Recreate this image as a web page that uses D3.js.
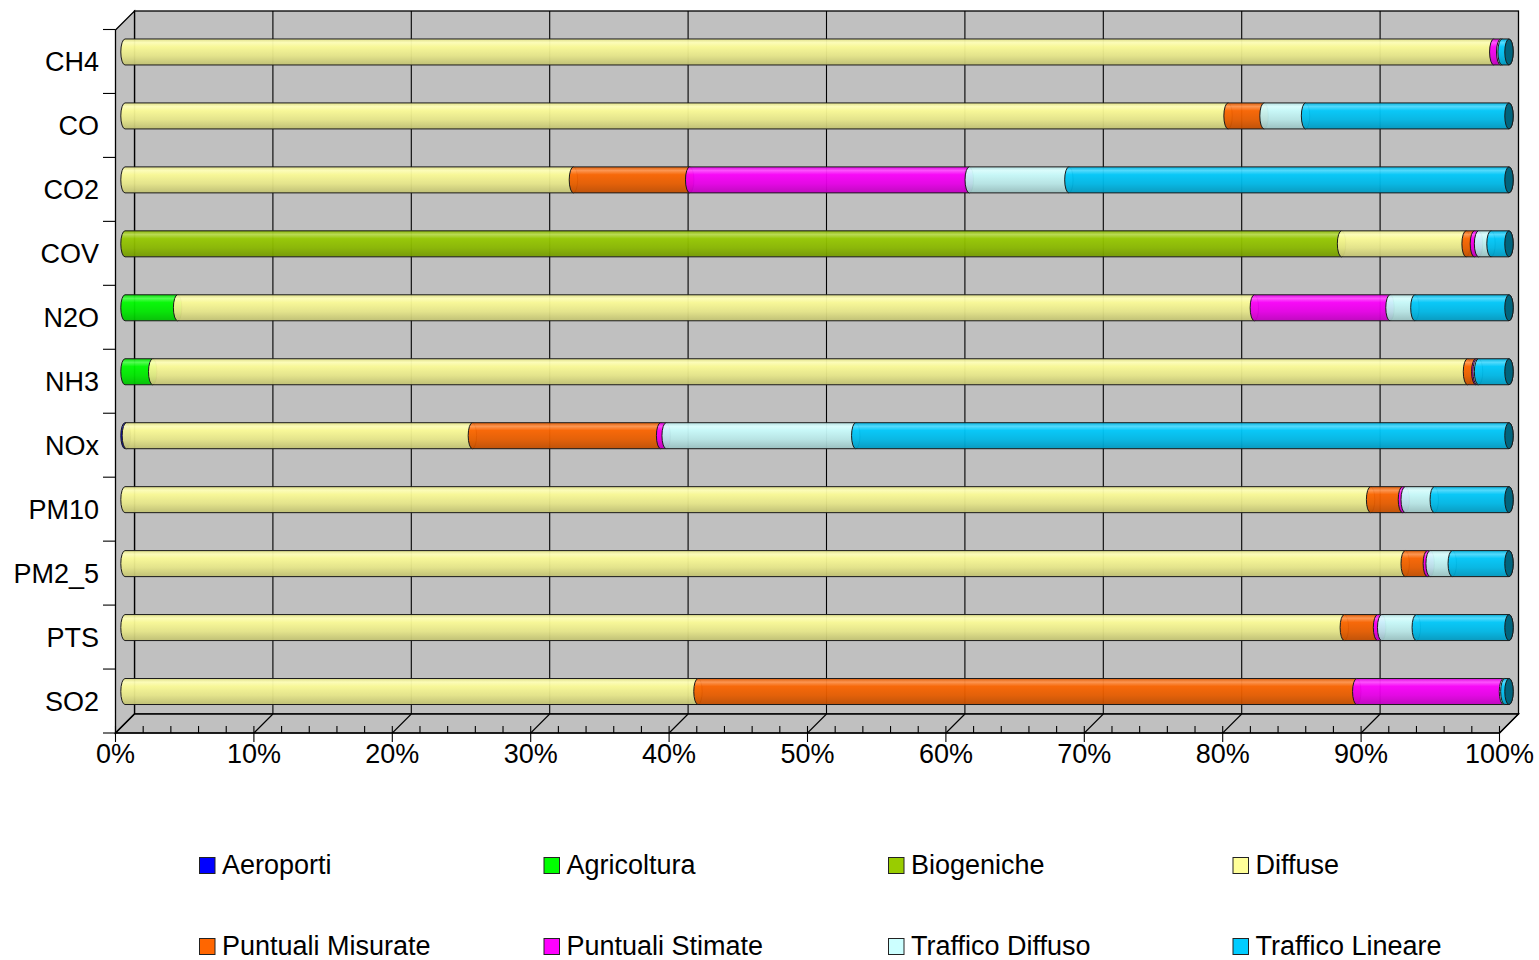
<!DOCTYPE html>
<html>
<head>
<meta charset="utf-8">
<script src="https://cdn.jsdelivr.net/npm/d3@7"></script>
<style>
  html, body { margin: 0; padding: 0; background: #fff; }
  svg { display: block; font-family: "Liberation Sans", Arial, sans-serif; }
</style>
</head>
<body>
<svg id="chart" width="1539" height="960"></svg>
<script>
// Pollutants (one stacked cylinder each), top to bottom
const categories = ["CH4", "CO", "CO2", "COV", "N2O", "NH3", "NOx", "PM10", "PM2_5", "PTS", "SO2"];

// Emission sources, in stacking order
const sources = ["Aeroporti", "Agricoltura", "Biogeniche", "Diffuse",
                 "Puntuali Misurate", "Puntuali Stimate", "Traffico Diffuso", "Traffico Lineare"];

// Share (%) of each source for every pollutant
const aeroporti        = [0,    0,    0,    0,    0,    0,    0.1,  0,    0,    0,    0];
const agricoltura      = [0,    0,    0,    0,    3.8,  2.0,  0,    0,    0,    0,    0];
const biogeniche       = [0,    0,    0,    87.9, 0,    0,    0,    0,    0,    0,    0];
const diffuse          = [98.9, 79.7, 32.4, 9.0,  77.8, 95.0, 25.0, 90.0, 92.5, 88.1, 41.4];
const puntualiMisurate = [0,    2.6,  8.4,  0.6,  0,    0.6,  13.6, 2.3,  1.6,  2.4,  47.6];
const puntualiStimate  = [0.5,  0,    20.2, 0.3,  9.8,  0.1,  0.4,  0.2,  0.2,  0.3,  10.6];
const trafficoDiffuso  = [0.1,  3.0,  7.2,  0.9,  1.8,  0.1,  13.7, 2.1,  1.6,  2.5,  0.1];
const trafficoLineare  = [0.5,  14.7, 31.8, 1.3,  6.8,  2.2,  47.2, 5.4,  4.1,  6.7,  0.3];

const seriesValues = [aeroporti, agricoltura, biogeniche, diffuse,
                      puntualiMisurate, puntualiStimate, trafficoDiffuso, trafficoLineare];

const colors = ["#0000FF", "#00FF00", "#99CC00", "#FFFF99",
                "#FF6600", "#FF00FF", "#CCFFFF", "#00CCFF"];

const xTicks = [0, 10, 20, 30, 40, 50, 60, 70, 80, 90, 100];

// ---- geometry of the 3D box ----
const svg = d3.select("#chart");
const depth = 19;                 // horizontal/vertical offset of the back wall
const frontLeft = 115.5, frontRight = 1499.5;
const frontTop = 30, frontBottom = 733;
const fontSize = 27;

const xFront = d3.scaleLinear().domain([0, 100]).range([frontLeft, frontRight]);
const xBack  = v => xFront(v) + depth;
const xMid   = v => xFront(v) + depth / 2;

const yBand = d3.scaleBand().domain(categories).range([frontTop - 0.5, frontBottom]).padding(0);
const barH = 26;
const barCenter = c => yBand(c) + yBand.bandwidth() / 2 - depth / 2;

const wallFill = "#C0C0C0";
const line = "#000";

// back wall
svg.append("rect")
  .attr("x", xBack(0)).attr("y", frontTop - depth)
  .attr("width", xBack(100) - xBack(0)).attr("height", frontBottom - frontTop)
  .attr("fill", wallFill).attr("stroke", line).attr("stroke-width", 1.3);

// left side wall
svg.append("path")
  .attr("d", `M${xFront(0)},${frontTop} L${xBack(0)},${frontTop - depth} L${xBack(0)},${frontBottom - depth} L${xFront(0)},${frontBottom} Z`)
  .attr("fill", wallFill).attr("stroke", line).attr("stroke-width", 1.3);

// floor
svg.append("path")
  .attr("d", `M${xFront(0)},${frontBottom} L${xBack(0)},${frontBottom - depth} L${xBack(100)},${frontBottom - depth} L${xFront(100)},${frontBottom} Z`)
  .attr("fill", wallFill).attr("stroke", line).attr("stroke-width", 1.3);

// vertical gridlines on the back wall and their diagonals across the floor
const grid = svg.append("g").attr("stroke", line).attr("stroke-width", 1.1);
xTicks.filter(v => v > 0 && v < 100).forEach(v => {
  grid.append("line").attr("x1", xBack(v)).attr("x2", xBack(v))
    .attr("y1", frontTop - depth).attr("y2", frontBottom - depth);
});
xTicks.forEach(v => {
  grid.append("line").attr("x1", xFront(v)).attr("x2", xBack(v))
    .attr("y1", frontBottom).attr("y2", frontBottom - depth);
});

// front value axis: minor and major ticks
const axis = svg.append("g").attr("stroke", line).attr("stroke-width", 1.1);
d3.range(0, 101, 2).forEach(v => {
  const major = v % 10 === 0;
  axis.append("line").attr("x1", xFront(v)).attr("x2", xFront(v))
    .attr("y1", frontBottom - 7).attr("y2", major ? frontBottom + 9 : frontBottom);
});
axis.append("line").attr("x1", xFront(0)).attr("x2", xFront(100))
  .attr("y1", frontBottom).attr("y2", frontBottom);

svg.append("g").selectAll("text").data(xTicks).join("text")
  .attr("x", d => xFront(d)).attr("y", 763)
  .attr("text-anchor", "middle").attr("font-size", fontSize).attr("fill", "#000")
  .text(d => d + "%");

// category axis on the left wall
const catAxis = svg.append("g").attr("stroke", line).attr("stroke-width", 1.1);
d3.range(categories.length + 1).forEach(i => {
  const y = frontTop - 0.5 + i * yBand.bandwidth();
  catAxis.append("line").attr("x1", frontLeft - 12.5).attr("x2", frontLeft).attr("y1", y).attr("y2", y);
});
svg.append("g").selectAll("text").data(categories).join("text")
  .attr("x", 99).attr("y", d => yBand(d) + yBand.bandwidth() / 2 + 9.5)
  .attr("text-anchor", "end").attr("font-size", fontSize).attr("fill", "#000")
  .text(d => d);

// ---- cylinder shading gradients ----
const defs = svg.append("defs");
colors.forEach((c, i) => {
  const base = d3.color(c);
  const light = d3.interpolateRgb(c, "#fff")(0.3);
  const g = defs.append("linearGradient").attr("id", "cyl" + i)
    .attr("x1", 0).attr("y1", 0).attr("x2", 0).attr("y2", 1);
  [[0, base.darker(0.35)], [0.14, light], [0.3, base.darker(0.05)],
   [0.65, base.darker(0.3)], [1, base.darker(0.8)]].forEach(([o, col]) => {
    g.append("stop").attr("offset", o).attr("stop-color", col.toString());
  });
});

// ---- stacked cylinders ----
const rows = categories.map((c, j) => {
  const r = { category: c };
  sources.forEach((s, i) => { r[s] = seriesValues[i][j]; });
  return r;
});
const stack = d3.stack().keys(sources).offset(d3.stackOffsetExpand);
const stacked = stack(rows);

const rx = 4.2, ry = barH / 2;
function segmentPath(x0, x1, cy) {
  const t = cy - ry, b = cy + ry;
  return `M${x0},${t} L${x1},${t} A${rx},${ry} 0 0 1 ${x1},${b} L${x0},${b} A${rx},${ry} 0 0 1 ${x0},${t} Z`;
}

const bars = svg.append("g");
categories.forEach((cat, j) => {
  const cy = barCenter(cat);
  let lastEnd = null, lastIdx = null;
  stacked.forEach((layer, i) => {
    const [a, b] = layer[j];
    if (b - a <= 0) return;
    const x0 = xMid(a * 100), x1 = xMid(b * 100);
    bars.append("path")
      .attr("d", segmentPath(x0, x1, cy))
      .attr("fill", `url(#cyl${i})`)
      .attr("fill-opacity", 0.95)
      .attr("stroke", "#1a1a1a").attr("stroke-width", 1);
    lastEnd = x1; lastIdx = i;
  });
  // visible end face of the cylinder
  if (lastEnd !== null) {
    bars.append("ellipse")
      .attr("cx", lastEnd).attr("cy", cy).attr("rx", rx).attr("ry", ry)
      .attr("fill", d3.color(colors[lastIdx]).darker(2).toString())
      .attr("stroke", "#1a1a1a").attr("stroke-width", 1);
  }
});

// ---- legend ----
const legend = svg.append("g");
const legX = [199, 543.5, 888, 1232.5];
const legY = [857, 938];
sources.forEach((s, i) => {
  const col = i % 4, row = Math.floor(i / 4);
  const g = legend.append("g").attr("transform", `translate(${legX[col]},${legY[row]})`);
  g.append("rect").attr("x", 0.5).attr("y", 0.5).attr("width", 15.5).attr("height", 16)
    .attr("fill", colors[i]).attr("stroke", "#222").attr("stroke-width", 1);
  g.append("text").attr("x", 23).attr("y", 17).attr("font-size", fontSize).attr("fill", "#000").text(s);
});
</script>
</body>
</html>
